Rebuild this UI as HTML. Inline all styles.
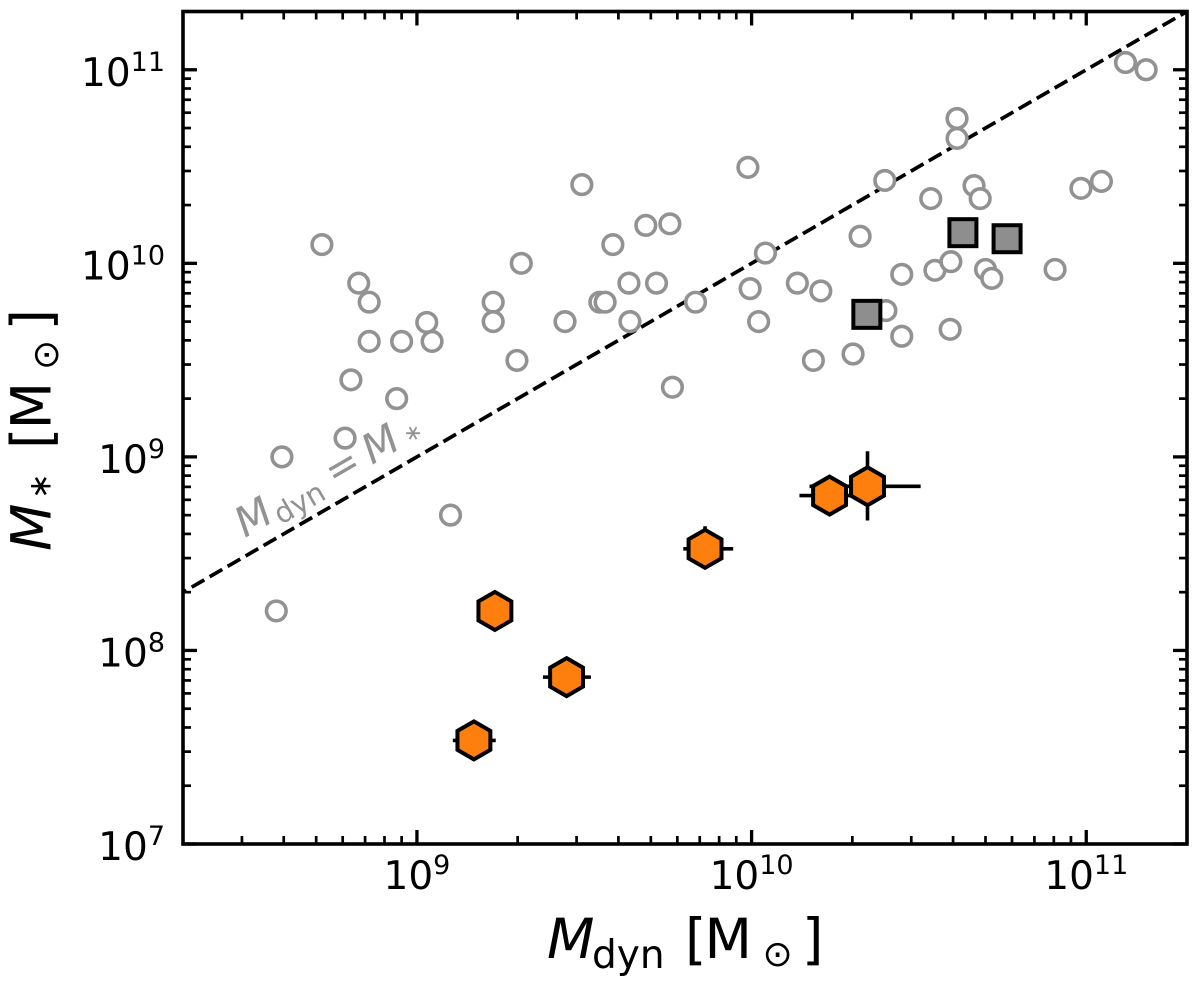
<!DOCTYPE html>
<html lang="en">
<head>
<meta charset="utf-8">
<title>Dynamical mass versus stellar mass</title>
<style>
html,body{margin:0;padding:0;background:#fff;}
svg{display:block;}
text{font-family:"DejaVu Sans","Liberation Sans",sans-serif;fill:#000;}
</style>
</head>
<body>
<svg id="chart" xmlns="http://www.w3.org/2000/svg" width="1200" height="984" viewBox="0 0 1200 984">
  <defs><clipPath id="plot-clip"><rect x="183" y="11" width="1004" height="833"/></clipPath></defs>
  <rect x="0" y="0" width="1200" height="984" fill="#fff"/>
  <g id="marks" clip-path="url(#plot-clip)"></g>
  <g id="annotation" style="fill:#929292">
    <text transform="translate(245,538) rotate(-30)" font-size="41" font-style="italic" style="fill:#929292">M</text>
    <text transform="translate(281,525) rotate(-30)" font-size="29" style="fill:#929292">dyn</text>
    <text transform="translate(349,478) rotate(-30)" font-size="41" text-anchor="middle" style="fill:#929292">=</text>
    <text transform="translate(372,465) rotate(-30)" font-size="41" font-style="italic" style="fill:#929292">M</text>
    <text transform="translate(408.5,443.7) rotate(-30)" font-size="22" style="fill:#929292">∗</text>
  </g>
  <g id="ticks"></g>
  <rect x="183" y="11.5" width="1004" height="832.5" fill="none" stroke="#000" stroke-width="3.6"/>
  <g id="tick-labels"></g>
  <g>
    <text x="547" y="958" font-size="55" font-style="italic">M</text>
    <text x="592" y="968" font-size="39">dyn</text>
    <text x="685" y="958" font-size="55">[</text>
    <text x="704.5" y="958" font-size="55">M</text>
    <text x="762.5" y="966" font-size="36">⊙</text>
    <text x="802" y="958" font-size="55">]</text>
  </g>
  <g>
    <text transform="translate(50.7,551) rotate(-90)" font-size="55" font-style="italic">M</text>
    <text transform="translate(50.5,499) rotate(-90)" font-size="31">∗</text>
    <text transform="translate(50.7,449) rotate(-90)" font-size="55">[</text>
    <text transform="translate(50.7,429.4) rotate(-90)" font-size="55">M</text>
    <text transform="translate(58,370) rotate(-90)" font-size="36">⊙</text>
    <text transform="translate(50.7,330.5) rotate(-90)" font-size="55">]</text>
  </g>
</svg>
<script>
// Axis limits and tick values
const xLimits = [2e8, 2e11];
const yLimits = [1e7, 2e11];
const xMajorTicks = [1e9, 1e10, 1e11];
const yMajorTicks = [1e7, 1e8, 1e9, 1e10, 1e11];
const xTickExponents = ['9', '10', '11'];
const yTickExponents = ['7', '8', '9', '10', '11'];
const minorMultiples = [2, 3, 4, 5, 6, 7, 8, 9];
const minorDecades = [1e7, 1e8, 1e9, 1e10, 1e11];

// One-to-one reference line
const equalityLine = [2e8, 2e11];

// Literature sample (open circles)
const literatureMdyn = [3.8e8, 3.95e8, 5.2e8, 6.1e8, 6.35e8, 6.7e8, 7.2e8, 7.2e8, 8.7e8, 9e8, 1.07e9, 1.11e9, 1.26e9, 1.69e9, 1.69e9, 1.99e9, 2.05e9, 2.77e9, 3.11e9, 3.52e9, 3.65e9, 3.85e9, 4.3e9, 4.33e9, 4.83e9, 5.2e9, 5.7e9, 5.8e9, 6.8e9, 9.75e9, 9.9e9, 1.05e10, 1.1e10, 1.37e10, 1.53e10, 1.61e10, 2.01e10, 2.11e10, 2.5e10, 2.52e10, 2.81e10, 2.81e10, 3.43e10, 3.53e10, 3.92e10, 3.94e10, 4.11e10, 4.11e10, 4.62e10, 4.82e10, 5.0e10, 5.22e10, 8.07e10, 9.64e10, 1.11e11, 1.31e11, 1.51e11];
const literatureMstar = [1.6e8, 1e9, 1.25e10, 1.25e9, 2.5e9, 7.9e9, 6.3e9, 3.95e9, 2e9, 3.95e9, 4.95e9, 3.95e9, 5e8, 6.3e9, 5e9, 3.15e9, 1e10, 5e9, 2.55e10, 6.3e9, 6.3e9, 1.25e10, 7.9e9, 5e9, 1.57e10, 7.9e9, 1.6e10, 2.29e9, 6.3e9, 3.13e10, 7.4e9, 5e9, 1.13e10, 7.9e9, 3.15e9, 7.2e9, 3.4e9, 1.38e10, 2.68e10, 5.7e9, 8.77e9, 4.2e9, 2.16e10, 9.2e9, 4.56e9, 1.02e10, 5.6e10, 4.42e10, 2.52e10, 2.16e10, 9.3e9, 8.36e9, 9.3e9, 2.44e10, 2.65e10, 1.09e11, 1e11];

// Comparison sample (gray squares)
const squareMdyn = [2.21e10, 4.28e10, 5.8e10];
const squareMstar = [5.45e9, 1.44e10, 1.34e10];

// Main sample (orange hexagons) with error-bar bounds
const hexMdyn = [1.71e9, 2.8e9, 1.48e9, 7.26e9, 1.71e10, 2.22e10];
const hexMstar = [1.6e8, 7.28e7, 3.43e7, 3.35e8, 6.31e8, 7.05e8];
const hexMdynLow = [1.6e9, 2.38e9, 1.28e9, 6.25e9, 1.39e10, 1.49e10];
const hexMdynHigh = [1.85e9, 3.31e9, 1.72e9, 8.81e9, 2.05e10, 3.2e10];
const hexMstarLow = [1.45e8, 6.5e7, 3.0e7, 2.7e8, 5.4e8, 4.69e8];
const hexMstarHigh = [1.77e8, 8.1e7, 3.9e7, 4.38e8, 7.3e8, 1.07e9];

const NS = 'http://www.w3.org/2000/svg';
const plot = { left: 183, right: 1187, top: 11.5, bottom: 844 };

function xScale(v) {
  const a = Math.log10(xLimits[0]), b = Math.log10(xLimits[1]);
  return plot.left + (Math.log10(v) - a) / (b - a) * (plot.right - plot.left);
}
function yScale(v) {
  const a = Math.log10(yLimits[0]), b = Math.log10(yLimits[1]);
  return plot.bottom - (Math.log10(v) - a) / (b - a) * (plot.bottom - plot.top);
}
function make(tag, attrs, parent) {
  const el = document.createElementNS(NS, tag);
  for (const k in attrs) el.setAttribute(k, attrs[k]);
  parent.appendChild(el);
  return el;
}
function inRange(v, lim) { return v >= lim[0] && v <= lim[1]; }

const marks = document.getElementById('marks');
const ticks = document.getElementById('ticks');
const labels = document.getElementById('tick-labels');

// Reference line
const refLine = make('line', { x1: xScale(equalityLine[0]), y1: yScale(equalityLine[0]), x2: xScale(equalityLine[1]), y2: yScale(equalityLine[1]), stroke: '#000', 'stroke-width': 3.7, 'stroke-dasharray': '14.6 6.17', 'stroke-dashoffset': 10.77 }, marks);



// Open circles
literatureMdyn.forEach(function (mx, i) {
  const c = make('circle', { cx: xScale(mx), cy: yScale(literatureMstar[i]), r: 9.8, fill: '#fff', stroke: '#929292', 'stroke-width': 3.6 }, marks);
  
  
});

// Squares
squareMdyn.forEach(function (mx, i) {
  const s = 27;
  const r = make('rect', { x: xScale(mx) - s / 2, y: yScale(squareMstar[i]) - s / 2, width: s, height: s, fill: '#8e8e8e', stroke: '#000', 'stroke-width': 4 }, marks);
  
  
});

// Error bars
hexMdyn.forEach(function (mx, i) {
  const cx = xScale(mx), cy = yScale(hexMstar[i]);
  const h = make('line', { x1: xScale(hexMdynLow[i]), y1: cy, x2: xScale(hexMdynHigh[i]), y2: cy, stroke: '#000', 'stroke-width': 3.6 }, marks);
  
  
  const v = make('line', { x1: cx, y1: yScale(hexMstarLow[i]), x2: cx, y2: yScale(hexMstarHigh[i]), stroke: '#000', 'stroke-width': 3.6 }, marks);
  
  
});

// Hexagons
const hexDrawOrder = hexMdyn.map(function (_, i) { return i; });
hexDrawOrder.forEach(function (i) {
  const cx = xScale(hexMdyn[i]), cy = yScale(hexMstar[i]), R = 19;
  const pts = [];
  for (let k = 0; k < 6; k++) {
    const a = Math.PI / 3 * k;
    pts.push((cx + R * Math.sin(a)).toFixed(2) + ',' + (cy - R * Math.cos(a)).toFixed(2));
  }
  const p = make('polygon', { points: pts.join(' '), fill: '#ff7f0e', stroke: '#000', 'stroke-width': 4 }, marks);
  
  
});

// Ticks
const MAJOR = 14, MINOR = 8;
function xTick(v, len, w) {
  const x = xScale(v);
  const a = make('line', { x1: x, y1: plot.bottom, x2: x, y2: plot.bottom - len, stroke: '#000', 'stroke-width': w }, ticks);
  
  
  const b = make('line', { x1: x, y1: plot.top, x2: x, y2: plot.top + len, stroke: '#000', 'stroke-width': w }, ticks);
  
  
}
function yTick(v, len, w) {
  const y = yScale(v);
  const a = make('line', { x1: plot.left, y1: y, x2: plot.left + len, y2: y, stroke: '#000', 'stroke-width': w }, ticks);
  
  
  const b = make('line', { x1: plot.right, y1: y, x2: plot.right - len, y2: y, stroke: '#000', 'stroke-width': w }, ticks);
  
  
}
xMajorTicks.forEach(function (v) { xTick(v, MAJOR, 3.3); });
yMajorTicks.forEach(function (v) { yTick(v, MAJOR, 3.3); });
minorDecades.forEach(function (d) {
  minorMultiples.forEach(function (m) {
    const v = m * d;
    if (inRange(v, xLimits)) xTick(v, MINOR, 2.7);
    if (inRange(v, yLimits)) yTick(v, MINOR, 2.7);
  });
});

// Tick labels
function tickLabel(x, y, anchor, exponent, name) {
  const t = make('text', { x: x, y: y, 'text-anchor': anchor, 'font-size': 39 }, labels);
  
  
  const base = make('tspan', {}, t);
  base.textContent = '10';
  const sup = make('tspan', { dy: -15, 'font-size': 27 }, t);
  sup.textContent = exponent;
}
xMajorTicks.forEach(function (v, i) {
  tickLabel(xScale(v), 889, 'middle', xTickExponents[i], 'x-tick-label');
});
yMajorTicks.forEach(function (v, i) {
  tickLabel(165, yScale(v) + 16, 'end', yTickExponents[i], 'y-tick-label');
});
</script>
</body>
</html>
